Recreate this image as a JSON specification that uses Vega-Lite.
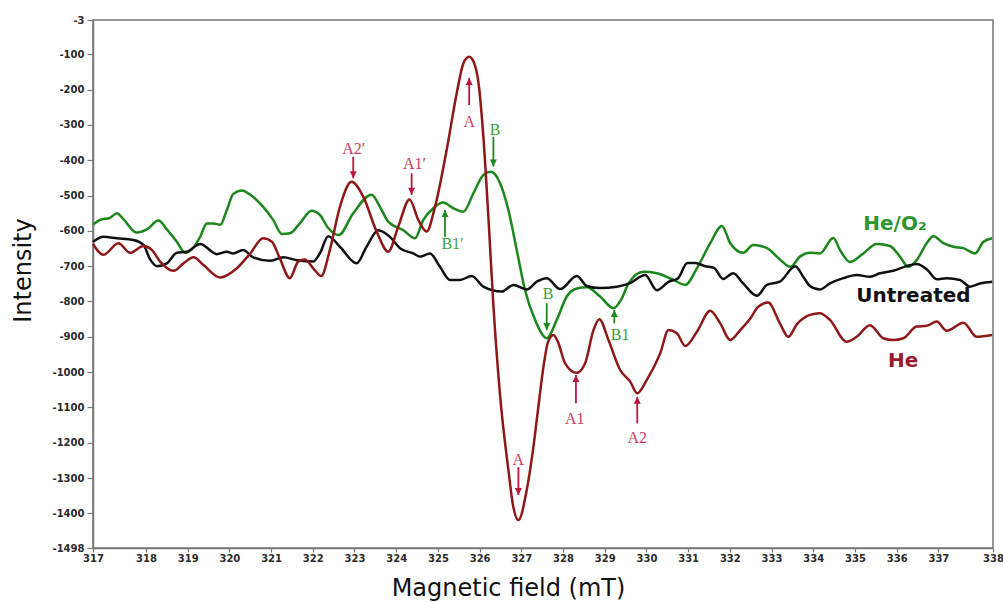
{
  "$schema": "https://vega.github.io/schema/vega-lite/v6.json",
  "width": 900,
  "height": 528,
  "autosize": {"type": "none"},
  "padding": {"left": 93, "top": 20, "right": 10, "bottom": 54},
  "background": "white",
  "config": {
    "view": {"stroke": "#777777", "strokeWidth": 1.5},
    "axis": {
      "labelFont": "DejaVu Sans",
      "labelFontWeight": "bold",
      "labelFontSize": 10,
      "labelColor": "#2a2a2a",
      "labelFlush": false,
      "labelOverlap": false,
      "tickColor": "#777777",
      "tickWidth": 1.2,
      "domainColor": "#777777",
      "domainWidth": 1.5,
      "grid": false,
      "titleFont": "DejaVu Sans",
      "titleFontSize": 24,
      "titleFontWeight": "normal",
      "titleColor": "#111111"
    }
  },
  "datasets": {
    "curves": [
      {"sample": "He/O2", "field": 316.73, "intensity": -583},
      {"sample": "He/O2", "field": 316.90, "intensity": -569},
      {"sample": "He/O2", "field": 317.14, "intensity": -563},
      {"sample": "He/O2", "field": 317.30, "intensity": -550},
      {"sample": "He/O2", "field": 317.46, "intensity": -567},
      {"sample": "He/O2", "field": 317.78, "intensity": -605},
      {"sample": "He/O2", "field": 318.02, "intensity": -596},
      {"sample": "He/O2", "field": 318.30, "intensity": -571},
      {"sample": "He/O2", "field": 318.50, "intensity": -596},
      {"sample": "He/O2", "field": 318.74, "intensity": -631},
      {"sample": "He/O2", "field": 318.94, "intensity": -662},
      {"sample": "He/O2", "field": 319.14, "intensity": -647},
      {"sample": "He/O2", "field": 319.30, "intensity": -617},
      {"sample": "He/O2", "field": 319.46, "intensity": -579},
      {"sample": "He/O2", "field": 319.62, "intensity": -579},
      {"sample": "He/O2", "field": 319.78, "intensity": -583},
      {"sample": "He/O2", "field": 319.94, "intensity": -541},
      {"sample": "He/O2", "field": 320.09, "intensity": -496},
      {"sample": "He/O2", "field": 320.30, "intensity": -486},
      {"sample": "He/O2", "field": 320.50, "intensity": -498},
      {"sample": "He/O2", "field": 320.81, "intensity": -532},
      {"sample": "He/O2", "field": 321.05, "intensity": -569},
      {"sample": "He/O2", "field": 321.26, "intensity": -609},
      {"sample": "He/O2", "field": 321.45, "intensity": -607},
      {"sample": "He/O2", "field": 321.69, "intensity": -579},
      {"sample": "He/O2", "field": 321.97, "intensity": -543},
      {"sample": "He/O2", "field": 322.17, "intensity": -555},
      {"sample": "He/O2", "field": 322.37, "intensity": -592},
      {"sample": "He/O2", "field": 322.62, "intensity": -612},
      {"sample": "He/O2", "field": 322.97, "intensity": -550},
      {"sample": "He/O2", "field": 323.41, "intensity": -498},
      {"sample": "He/O2", "field": 323.61, "intensity": -532},
      {"sample": "He/O2", "field": 323.81, "intensity": -574},
      {"sample": "He/O2", "field": 324.17, "intensity": -598},
      {"sample": "He/O2", "field": 324.45, "intensity": -621},
      {"sample": "He/O2", "field": 324.65, "intensity": -569},
      {"sample": "He/O2", "field": 324.89, "intensity": -536},
      {"sample": "He/O2", "field": 325.13, "intensity": -520},
      {"sample": "He/O2", "field": 325.37, "intensity": -536},
      {"sample": "He/O2", "field": 325.61, "intensity": -546},
      {"sample": "He/O2", "field": 325.85, "intensity": -494},
      {"sample": "He/O2", "field": 326.09, "intensity": -442},
      {"sample": "He/O2", "field": 326.27, "intensity": -433},
      {"sample": "He/O2", "field": 326.49, "intensity": -465},
      {"sample": "He/O2", "field": 326.69, "intensity": -541},
      {"sample": "He/O2", "field": 326.89, "intensity": -654},
      {"sample": "He/O2", "field": 327.09, "intensity": -768},
      {"sample": "He/O2", "field": 327.33, "intensity": -852},
      {"sample": "He/O2", "field": 327.61, "intensity": -904},
      {"sample": "He/O2", "field": 327.85, "intensity": -852},
      {"sample": "He/O2", "field": 328.09, "intensity": -786},
      {"sample": "He/O2", "field": 328.33, "intensity": -763},
      {"sample": "He/O2", "field": 328.57, "intensity": -760},
      {"sample": "He/O2", "field": 328.89, "intensity": -786},
      {"sample": "He/O2", "field": 329.21, "intensity": -819},
      {"sample": "He/O2", "field": 329.41, "intensity": -791},
      {"sample": "He/O2", "field": 329.57, "intensity": -749},
      {"sample": "He/O2", "field": 329.93, "intensity": -716},
      {"sample": "He/O2", "field": 330.25, "intensity": -720},
      {"sample": "He/O2", "field": 330.65, "intensity": -739},
      {"sample": "He/O2", "field": 330.93, "intensity": -753},
      {"sample": "He/O2", "field": 331.21, "intensity": -706},
      {"sample": "He/O2", "field": 331.53, "intensity": -635},
      {"sample": "He/O2", "field": 331.81, "intensity": -586},
      {"sample": "He/O2", "field": 332.01, "intensity": -635},
      {"sample": "He/O2", "field": 332.32, "intensity": -662},
      {"sample": "He/O2", "field": 332.56, "intensity": -640},
      {"sample": "He/O2", "field": 332.89, "intensity": -649},
      {"sample": "He/O2", "field": 333.20, "intensity": -681},
      {"sample": "He/O2", "field": 333.45, "intensity": -702},
      {"sample": "He/O2", "field": 333.68, "intensity": -673},
      {"sample": "He/O2", "field": 333.92, "intensity": -662},
      {"sample": "He/O2", "field": 334.16, "intensity": -664},
      {"sample": "He/O2", "field": 334.48, "intensity": -620},
      {"sample": "He/O2", "field": 334.64, "intensity": -654},
      {"sample": "He/O2", "field": 334.88, "intensity": -688},
      {"sample": "He/O2", "field": 335.20, "intensity": -664},
      {"sample": "He/O2", "field": 335.52, "intensity": -637},
      {"sample": "He/O2", "field": 335.84, "intensity": -643},
      {"sample": "He/O2", "field": 336.08, "intensity": -673},
      {"sample": "He/O2", "field": 336.28, "intensity": -702},
      {"sample": "He/O2", "field": 336.48, "intensity": -683},
      {"sample": "He/O2", "field": 336.72, "intensity": -635},
      {"sample": "He/O2", "field": 336.88, "intensity": -615},
      {"sample": "He/O2", "field": 337.12, "intensity": -635},
      {"sample": "He/O2", "field": 337.36, "intensity": -645},
      {"sample": "He/O2", "field": 337.60, "intensity": -649},
      {"sample": "He/O2", "field": 337.88, "intensity": -664},
      {"sample": "He/O2", "field": 338.08, "intensity": -631},
      {"sample": "He/O2", "field": 338.29, "intensity": -621},

      {"sample": "Untreated", "field": 316.73, "intensity": -631},
      {"sample": "Untreated", "field": 316.98, "intensity": -617},
      {"sample": "Untreated", "field": 317.30, "intensity": -621},
      {"sample": "Untreated", "field": 317.70, "intensity": -626},
      {"sample": "Untreated", "field": 317.94, "intensity": -640},
      {"sample": "Untreated", "field": 318.10, "intensity": -681},
      {"sample": "Untreated", "field": 318.26, "intensity": -700},
      {"sample": "Untreated", "field": 318.50, "intensity": -692},
      {"sample": "Untreated", "field": 318.74, "intensity": -662},
      {"sample": "Untreated", "field": 318.98, "intensity": -659},
      {"sample": "Untreated", "field": 319.30, "intensity": -637},
      {"sample": "Untreated", "field": 319.70, "intensity": -666},
      {"sample": "Untreated", "field": 319.94, "intensity": -659},
      {"sample": "Untreated", "field": 320.09, "intensity": -664},
      {"sample": "Untreated", "field": 320.33, "intensity": -654},
      {"sample": "Untreated", "field": 320.57, "intensity": -675},
      {"sample": "Untreated", "field": 320.97, "intensity": -685},
      {"sample": "Untreated", "field": 321.29, "intensity": -675},
      {"sample": "Untreated", "field": 321.62, "intensity": -683},
      {"sample": "Untreated", "field": 322.01, "intensity": -687},
      {"sample": "Untreated", "field": 322.17, "intensity": -664},
      {"sample": "Untreated", "field": 322.37, "intensity": -615},
      {"sample": "Untreated", "field": 322.65, "intensity": -645},
      {"sample": "Untreated", "field": 323.05, "intensity": -692},
      {"sample": "Untreated", "field": 323.29, "intensity": -645},
      {"sample": "Untreated", "field": 323.57, "intensity": -598},
      {"sample": "Untreated", "field": 323.85, "intensity": -617},
      {"sample": "Untreated", "field": 324.09, "intensity": -649},
      {"sample": "Untreated", "field": 324.41, "intensity": -664},
      {"sample": "Untreated", "field": 324.57, "intensity": -673},
      {"sample": "Untreated", "field": 324.81, "intensity": -664},
      {"sample": "Untreated", "field": 325.05, "intensity": -702},
      {"sample": "Untreated", "field": 325.29, "intensity": -739},
      {"sample": "Untreated", "field": 325.53, "intensity": -739},
      {"sample": "Untreated", "field": 325.81, "intensity": -728},
      {"sample": "Untreated", "field": 326.09, "intensity": -758},
      {"sample": "Untreated", "field": 326.53, "intensity": -772},
      {"sample": "Untreated", "field": 326.81, "intensity": -753},
      {"sample": "Untreated", "field": 327.13, "intensity": -766},
      {"sample": "Untreated", "field": 327.37, "intensity": -744},
      {"sample": "Untreated", "field": 327.61, "intensity": -734},
      {"sample": "Untreated", "field": 327.93, "intensity": -765},
      {"sample": "Untreated", "field": 328.33, "intensity": -728},
      {"sample": "Untreated", "field": 328.57, "intensity": -756},
      {"sample": "Untreated", "field": 328.89, "intensity": -762},
      {"sample": "Untreated", "field": 329.29, "intensity": -758},
      {"sample": "Untreated", "field": 329.61, "intensity": -748},
      {"sample": "Untreated", "field": 329.97, "intensity": -725},
      {"sample": "Untreated", "field": 330.25, "intensity": -768},
      {"sample": "Untreated", "field": 330.52, "intensity": -745},
      {"sample": "Untreated", "field": 330.76, "intensity": -734},
      {"sample": "Untreated", "field": 330.98, "intensity": -691},
      {"sample": "Untreated", "field": 331.17, "intensity": -691},
      {"sample": "Untreated", "field": 331.41, "intensity": -700},
      {"sample": "Untreated", "field": 331.62, "intensity": -705},
      {"sample": "Untreated", "field": 331.84, "intensity": -736},
      {"sample": "Untreated", "field": 332.08, "intensity": -720},
      {"sample": "Untreated", "field": 332.32, "intensity": -749},
      {"sample": "Untreated", "field": 332.65, "intensity": -784},
      {"sample": "Untreated", "field": 332.89, "intensity": -753},
      {"sample": "Untreated", "field": 333.20, "intensity": -744},
      {"sample": "Untreated", "field": 333.57, "intensity": -700},
      {"sample": "Untreated", "field": 333.76, "intensity": -730},
      {"sample": "Untreated", "field": 333.92, "intensity": -756},
      {"sample": "Untreated", "field": 334.16, "intensity": -766},
      {"sample": "Untreated", "field": 334.40, "intensity": -749},
      {"sample": "Untreated", "field": 334.72, "intensity": -734},
      {"sample": "Untreated", "field": 335.04, "intensity": -725},
      {"sample": "Untreated", "field": 335.36, "intensity": -730},
      {"sample": "Untreated", "field": 335.60, "intensity": -720},
      {"sample": "Untreated", "field": 335.92, "intensity": -713},
      {"sample": "Untreated", "field": 336.24, "intensity": -700},
      {"sample": "Untreated", "field": 336.48, "intensity": -694},
      {"sample": "Untreated", "field": 336.72, "intensity": -709},
      {"sample": "Untreated", "field": 336.96, "intensity": -737},
      {"sample": "Untreated", "field": 337.20, "intensity": -734},
      {"sample": "Untreated", "field": 337.52, "intensity": -739},
      {"sample": "Untreated", "field": 337.76, "intensity": -758},
      {"sample": "Untreated", "field": 338.00, "intensity": -749},
      {"sample": "Untreated", "field": 338.29, "intensity": -744},

      {"sample": "He", "field": 316.73, "intensity": -637},
      {"sample": "He", "field": 316.98, "intensity": -668},
      {"sample": "He", "field": 317.34, "intensity": -635},
      {"sample": "He", "field": 317.62, "intensity": -662},
      {"sample": "He", "field": 317.94, "intensity": -643},
      {"sample": "He", "field": 318.14, "intensity": -654},
      {"sample": "He", "field": 318.34, "intensity": -687},
      {"sample": "He", "field": 318.66, "intensity": -713},
      {"sample": "He", "field": 318.90, "intensity": -692},
      {"sample": "He", "field": 319.14, "intensity": -675},
      {"sample": "He", "field": 319.38, "intensity": -697},
      {"sample": "He", "field": 319.78, "intensity": -732},
      {"sample": "He", "field": 320.18, "intensity": -706},
      {"sample": "He", "field": 320.50, "intensity": -664},
      {"sample": "He", "field": 320.81, "intensity": -621},
      {"sample": "He", "field": 321.02, "intensity": -631},
      {"sample": "He", "field": 321.21, "intensity": -678},
      {"sample": "He", "field": 321.45, "intensity": -734},
      {"sample": "He", "field": 321.65, "intensity": -687},
      {"sample": "He", "field": 321.81, "intensity": -681},
      {"sample": "He", "field": 322.01, "intensity": -706},
      {"sample": "He", "field": 322.20, "intensity": -728},
      {"sample": "He", "field": 322.41, "intensity": -654},
      {"sample": "He", "field": 322.65, "intensity": -532},
      {"sample": "He", "field": 322.93, "intensity": -461},
      {"sample": "He", "field": 323.21, "intensity": -503},
      {"sample": "He", "field": 323.53, "intensity": -602},
      {"sample": "He", "field": 323.81, "intensity": -659},
      {"sample": "He", "field": 324.05, "intensity": -588},
      {"sample": "He", "field": 324.32, "intensity": -511},
      {"sample": "He", "field": 324.53, "intensity": -569},
      {"sample": "He", "field": 324.73, "intensity": -602},
      {"sample": "He", "field": 324.93, "intensity": -532},
      {"sample": "He", "field": 325.21, "intensity": -371},
      {"sample": "He", "field": 325.45, "intensity": -211},
      {"sample": "He", "field": 325.61, "intensity": -126},
      {"sample": "He", "field": 325.75, "intensity": -107},
      {"sample": "He", "field": 325.87, "intensity": -125},
      {"sample": "He", "field": 325.98, "intensity": -187},
      {"sample": "He", "field": 326.09, "intensity": -333},
      {"sample": "He", "field": 326.21, "intensity": -560},
      {"sample": "He", "field": 326.33, "intensity": -810},
      {"sample": "He", "field": 326.49, "intensity": -1065},
      {"sample": "He", "field": 326.69, "intensity": -1277},
      {"sample": "He", "field": 326.80, "intensity": -1376},
      {"sample": "He", "field": 326.93, "intensity": -1419},
      {"sample": "He", "field": 327.13, "intensity": -1334},
      {"sample": "He", "field": 327.28, "intensity": -1221},
      {"sample": "He", "field": 327.40, "intensity": -1107},
      {"sample": "He", "field": 327.52, "intensity": -994},
      {"sample": "He", "field": 327.64, "intensity": -915},
      {"sample": "He", "field": 327.77, "intensity": -895},
      {"sample": "He", "field": 327.88, "intensity": -915},
      {"sample": "He", "field": 328.05, "intensity": -975},
      {"sample": "He", "field": 328.33, "intensity": -1002},
      {"sample": "He", "field": 328.53, "intensity": -975},
      {"sample": "He", "field": 328.73, "intensity": -881},
      {"sample": "He", "field": 328.87, "intensity": -850},
      {"sample": "He", "field": 329.09, "intensity": -909},
      {"sample": "He", "field": 329.37, "intensity": -994},
      {"sample": "He", "field": 329.61, "intensity": -1027},
      {"sample": "He", "field": 329.78, "intensity": -1060},
      {"sample": "He", "field": 330.01, "intensity": -1022},
      {"sample": "He", "field": 330.33, "intensity": -947},
      {"sample": "He", "field": 330.53, "intensity": -881},
      {"sample": "He", "field": 330.73, "intensity": -890},
      {"sample": "He", "field": 330.93, "intensity": -926},
      {"sample": "He", "field": 331.21, "intensity": -886},
      {"sample": "He", "field": 331.53, "intensity": -826},
      {"sample": "He", "field": 331.77, "intensity": -862},
      {"sample": "He", "field": 332.01, "intensity": -909},
      {"sample": "He", "field": 332.25, "intensity": -881},
      {"sample": "He", "field": 332.49, "intensity": -848},
      {"sample": "He", "field": 332.68, "intensity": -815},
      {"sample": "He", "field": 332.92, "intensity": -803},
      {"sample": "He", "field": 333.20, "intensity": -862},
      {"sample": "He", "field": 333.40, "intensity": -900},
      {"sample": "He", "field": 333.61, "intensity": -864},
      {"sample": "He", "field": 333.92, "intensity": -838},
      {"sample": "He", "field": 334.16, "intensity": -833},
      {"sample": "He", "field": 334.40, "intensity": -852},
      {"sample": "He", "field": 334.80, "intensity": -914},
      {"sample": "He", "field": 335.04, "intensity": -900},
      {"sample": "He", "field": 335.36, "intensity": -867},
      {"sample": "He", "field": 335.68, "intensity": -904},
      {"sample": "He", "field": 335.92, "intensity": -909},
      {"sample": "He", "field": 336.16, "intensity": -904},
      {"sample": "He", "field": 336.48, "intensity": -871},
      {"sample": "He", "field": 336.72, "intensity": -869},
      {"sample": "He", "field": 336.96, "intensity": -857},
      {"sample": "He", "field": 337.20, "intensity": -883},
      {"sample": "He", "field": 337.60, "intensity": -860},
      {"sample": "He", "field": 337.92, "intensity": -900},
      {"sample": "He", "field": 338.29, "intensity": -895}
    ],
    "arrows": [
      {"series": "He", "dir": "up", "field": 325.75, "intensity": -167, "tail": -244},
      {"series": "He/O2", "dir": "down", "field": 326.33, "intensity": -418, "tail": -334},
      {"series": "He", "dir": "down", "field": 322.97, "intensity": -451, "tail": -390},
      {"series": "He", "dir": "down", "field": 324.37, "intensity": -498, "tail": -437},
      {"series": "He/O2", "dir": "up", "field": 325.17, "intensity": -541, "tail": -617},
      {"series": "He/O2", "dir": "down", "field": 327.61, "intensity": -881, "tail": -805},
      {"series": "He/O2", "dir": "up", "field": 329.23, "intensity": -824, "tail": -862},
      {"series": "He", "dir": "up", "field": 328.31, "intensity": -1008, "tail": -1088},
      {"series": "He", "dir": "up", "field": 329.78, "intensity": -1070, "tail": -1145},
      {"series": "He", "dir": "down", "field": 326.93, "intensity": -1348, "tail": -1269}
    ],
    "peakLabels": [
      {"series": "He", "label": "A", "field": 325.75, "intensity": -306},
      {"series": "He/O2", "label": "B", "field": 326.37, "intensity": -329},
      {"series": "He", "label": "A2′", "field": 322.98, "intensity": -381},
      {"series": "He", "label": "A1′", "field": 324.44, "intensity": -424},
      {"series": "He/O2", "label": "B1′", "field": 325.35, "intensity": -650},
      {"series": "He/O2", "label": "B", "field": 327.64, "intensity": -792},
      {"series": "He/O2", "label": "B1", "field": 329.37, "intensity": -910},
      {"series": "He", "label": "A1", "field": 328.28, "intensity": -1146},
      {"series": "He", "label": "A2", "field": 329.78, "intensity": -1202},
      {"series": "He", "label": "A", "field": 326.93, "intensity": -1262}
    ],
    "seriesNames": [
      {"sample": "He/O₂", "field": 335.20, "intensity": -599},
      {"sample": "Untreated", "field": 335.03, "intensity": -801},
      {"sample": "He", "field": 335.79, "intensity": -985}
    ]
  },
  "encoding": {
    "x": {
      "field": "field",
      "type": "quantitative",
      "title": "Magnetic field (mT)",
      "scale": {"domain": [316.73, 338.31], "nice": false, "zero": false},
      "axis": {
        "values": [316.73, 318, 319, 320, 321, 322, 323, 324, 325, 326, 327, 328, 329, 330, 331, 332, 333, 334, 335, 336, 337, 338.31],
        "labelExpr": "'' + round(datum.value)",
        "tickSize": 4,
        "labelPadding": 1,
        "titleX": 415,
        "titleY": 47,
        "titleBaseline": "alphabetic",
        "titleAlign": "center"
      }
    },
    "y": {
      "field": "intensity",
      "type": "quantitative",
      "title": "Intensity",
      "scale": {"domain": [-1498, -3], "nice": false, "zero": false},
      "axis": {
        "values": [-3, -100, -200, -300, -400, -500, -600, -700, -800, -900, -1000, -1100, -1200, -1300, -1400, -1498],
        "labelExpr": "'-' + round(abs(datum.value))",
        "tickSize": 6,
        "labelPadding": 3,
        "titleX": -63,
        "titleY": 250,
        "titleAngle": 270,
        "titleBaseline": "alphabetic",
        "titleAlign": "center"
      }
    }
  },
  "layer": [
    {
      "data": {"name": "curves"},
      "mark": {"type": "line", "strokeWidth": 2.5, "interpolate": "monotone"},
      "encoding": {
        "color": {
          "field": "sample",
          "type": "nominal",
          "scale": {"domain": ["He/O2", "Untreated", "He"], "range": ["#1c871c", "#111111", "#8e1717"]},
          "legend": null
        }
      }
    },
    {
      "data": {"name": "arrows"},
      "mark": {"type": "rule", "strokeWidth": 1.8},
      "encoding": {
        "y2": {"field": "tail"},
        "color": {
          "field": "series",
          "type": "nominal",
          "scale": {"domain": ["He", "He/O2"], "range": ["#b8173f", "#1f8a1f"]},
          "legend": null
        }
      }
    },
    {
      "data": {"name": "arrows"},
      "mark": {"type": "point", "filled": true, "opacity": 1, "size": 49, "strokeWidth": 0},
      "encoding": {
        "shape": {
          "field": "dir",
          "type": "nominal",
          "scale": {"domain": ["down", "up"], "range": ["M0,0L-1,-2L1,-2Z", "M0,0L-1,2L1,2Z"]},
          "legend": null
        },
        "color": {
          "field": "series",
          "type": "nominal",
          "scale": {"domain": ["He", "He/O2"], "range": ["#b8173f", "#1f8a1f"]},
          "legend": null
        }
      }
    },
    {
      "data": {"name": "peakLabels"},
      "mark": {"type": "text", "font": "Liberation Serif", "fontSize": 16, "align": "center", "baseline": "alphabetic"},
      "encoding": {
        "text": {"field": "label"},
        "color": {
          "field": "series",
          "type": "nominal",
          "scale": {"domain": ["He", "He/O2"], "range": ["#cc3a60", "#3a9e3a"]},
          "legend": null
        }
      }
    },
    {
      "data": {"name": "seriesNames"},
      "mark": {"type": "text", "font": "DejaVu Sans", "fontWeight": "bold", "fontSize": 20, "align": "left", "baseline": "alphabetic"},
      "encoding": {
        "text": {"field": "sample"},
        "color": {
          "field": "sample",
          "type": "nominal",
          "scale": {"domain": ["He/O₂", "Untreated", "He"], "range": ["#2e962e", "#111111", "#9a1a2e"]},
          "legend": null
        }
      }
    }
  ],
  "resolve": {"scale": {"color": "independent"}}
}
